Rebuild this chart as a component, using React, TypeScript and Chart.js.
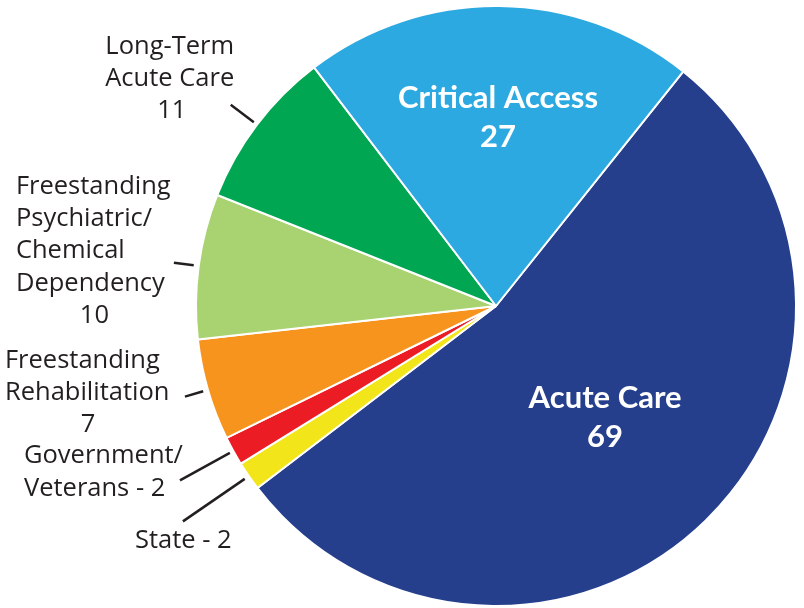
import React, { useEffect, useRef } from "react";
import { Chart, registerables } from "chart.js";

Chart.register(...registerables);

const categories = [
  "Acute Care",
  "State",
  "Government/Veterans",
  "Freestanding Rehabilitation",
  "Freestanding Psychiatric/Chemical Dependency",
  "Long-Term Acute Care",
  "Critical Access",
];
const values = [69, 2, 2, 7, 10, 11, 27];
const colors = ["#253F8D", "#F2E61B", "#EC1C24", "#F7941E", "#A9D270", "#00A651", "#2DA9E1"];

// label text lines (value is appended by the format below)
const labelLines = [
  ["Acute Care"],
  ["State - "],
  ["Government/", "Veterans - "],
  ["Freestanding", "Rehabilitation"],
  ["Freestanding", "Psychiatric/", "Chemical", "Dependency"],
  ["Long-Term", "Acute Care"],
  ["Critical Access"],
];
// "inside": white bold inside slice; "outside": leader + text
const labelKind = ["inside", "outside", "outside", "outside", "outside", "outside", "inside"];
// value placement: "line" = own line, "append" = appended to last line
const valueMode = ["line", "append", "append", "line", "line", "line", "line"];

const FONT_OUT = '"Open Sans", Lato, sans-serif';
const FONT_IN = 'Lato, "Open Sans", sans-serif';

// layout for labels (styles, not data)
const inside: Record<number, { frac: number }> = {
  0: { frac: 0.52 },
  6: { frac: 0.63 },
};
const outside: Record<
  number,
  { r0: number; r1: number; align: CanvasTextAlign; dx: number; dy: number; numDx?: number }
> = {
  1: { r0: 5, r1: 80, align: "left", dx: -48, dy: 27 },
  2: { r0: 4, r1: 61, align: "left", dx: -156, dy: -17 },
  3: { r0: 5, r1: 24, align: "left", dx: -180, dy: -29, numDx: -97 },
  4: { r0: 5, r1: 25, align: "left", dx: -158, dy: -69, numDx: -79.5 },
  5: { r0: 4, r1: 33, align: "center", dx: -61, dy: -51, numDx: -59 },
};

const labelPlugin = {
  id: "sliceLabels",
  afterDatasetsDraw(chart: any) {
    const ctx: CanvasRenderingContext2D = chart.ctx;
    const meta = chart.getDatasetMeta(0);
    meta.data.forEach((arc: any, i: number) => {
      const p = arc.getProps(["x", "y", "startAngle", "endAngle", "outerRadius"], true);
      const a = (p.startAngle + p.endAngle) / 2;
      const cos = Math.cos(a);
      const sin = Math.sin(a);
      const lines = labelLines[i].slice();
      if (valueMode[i] === "append") lines[lines.length - 1] += String(values[i]);
      ctx.save();
      if (labelKind[i] === "inside") {
        const cfg = inside[i];
        const cx = p.x + cos * p.outerRadius * cfg.frac;
        const cy = p.y + sin * p.outerRadius * cfg.frac;
        ctx.fillStyle = "#FFFFFF";
        ctx.font = `bold 31px ${FONT_IN}`;
        ctx.textAlign = "center";
        ctx.textBaseline = "middle";
        const all = valueMode[i] === "line" ? [...lines, String(values[i])] : lines;
        const lh = 39;
        all.forEach((t, k) => {
          ctx.fillText(t, cx, cy + (k - (all.length - 1) / 2) * lh);
        });
      } else {
        const cfg = outside[i];
        const sx = p.x + cos * (p.outerRadius + cfg.r0);
        const sy = p.y + sin * (p.outerRadius + cfg.r0);
        const ex = p.x + cos * (p.outerRadius + cfg.r1);
        const ey = p.y + sin * (p.outerRadius + cfg.r1);
        ctx.strokeStyle = "#231F20";
        ctx.lineWidth = 2.5;
        ctx.beginPath();
        ctx.moveTo(sx, sy);
        ctx.lineTo(ex, ey);
        ctx.stroke();
        ctx.fillStyle = "#231F20";
        ctx.font = `25.5px ${FONT_OUT}`;
        ctx.textBaseline = "alphabetic";
        const lh = 32.3;
        lines.forEach((t, k) => {
          ctx.textAlign = cfg.align;
          ctx.fillText(t, ex + cfg.dx, ey + cfg.dy + k * lh);
        });
        if (valueMode[i] === "line") {
          ctx.textAlign = "center";
          ctx.fillText(String(values[i]), ex + (cfg.numDx ?? cfg.dx), ey + cfg.dy + lines.length * lh);
        }
      }
      ctx.restore();
    });
  },
};

export default function App() {
  const ref = useRef<HTMLCanvasElement | null>(null);
  useEffect(() => {
    if (!ref.current) return;
    const chart = new Chart(ref.current, {
      type: "pie",
      data: {
        labels: categories,
        datasets: [
          {
            data: values,
            backgroundColor: colors,
            borderColor: "#FFFFFF",
            borderWidth: 2,
            hoverOffset: 0,
          },
        ],
      },
      options: {
        responsive: false,
        animation: false,
        rotation: 38.6,
        layout: { padding: { left: 195, top: 5, right: 7, bottom: 1 } },
        plugins: {
          legend: { display: false },
          tooltip: { enabled: false },
        },
        events: [],
      },
      plugins: [labelPlugin],
    });
    return () => chart.destroy();
  }, []);
  return (
    <div style={{ position: "absolute", left: 0, top: 0, width: 804, height: 608, background: "#FFFFFF" }}>
      <canvas ref={ref} width={804} height={608} />
    </div>
  );
}
